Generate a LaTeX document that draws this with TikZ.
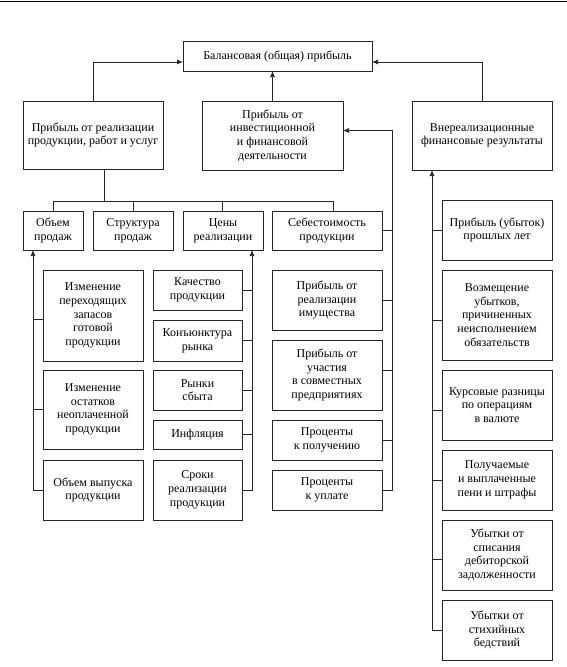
\documentclass[tikz,border=0pt]{standalone}
\usepackage{fontspec}
\setmainfont{Liberation Serif}
\usetikzlibrary{arrows.meta,calc}
\begin{document}
\begin{tikzpicture}[x={(1pt,0)},y={(0,-1pt)},
  box/.style={draw=black!85,line width=0.75pt,rectangle,inner sep=0pt,outer sep=0pt,align=center,
    font=\fontsize{12pt}{13.7pt}\selectfont},
  conn/.style={draw=black!85,line width=0.75pt},
  arr/.style={conn,-{Latex[length=6pt,width=5pt]}}]
\newcommand\mybox[6]{\node[box,minimum width={#4-#2},minimum height={#5-#3}] (#1) at ({(#2+#4)/2},{(#3+#5)/2}) {#6};}
\useasboundingbox (0,0) rectangle (567,667);
\draw[line width=1.3pt] (0,1.5) -- (567,1.5);
% level 0-1
\mybox{top}{183}{41}{372}{71}{Балансовая (общая) прибыль}
\mybox{prod}{23}{101}{163}{169}{Прибыль от реализации\\продукции, работ и услуг}
\mybox{inv}{202}{101}{343}{170}{Прибыль от\\инвестиционной\\и финансовой\\деятельности}
\mybox{vne}{412}{101}{552}{170}{Внереализационные\\финансовые результаты}
% level 2
\mybox{obem}{23}{211}{83}{250}{Объем\\продаж}
\mybox{struct}{93}{211}{173}{250}{Структура\\продаж}
\mybox{ceny}{183}{211}{263}{250}{Цены\\реализации}
\mybox{sebest}{272}{211}{382}{250}{Себестоимость\\продукции}
% left column
\mybox{la}{43}{270}{143}{361}{Изменение\\переходящих\\запасов\\готовой\\продукции}
\mybox{lb}{43}{370}{143}{449}{Изменение\\остатков\\неоплаченной\\продукции}
\mybox{lc}{43}{460}{143}{520}{Объем выпуска\\продукции}
% middle column
\mybox{ma}{153}{270}{242}{310}{Качество\\продукции}
\mybox{mb}{153}{320}{242}{361}{Конъюнктура\\рынка}
\mybox{mc}{153}{370}{242}{410}{Рынки\\сбыта}
\mybox{md}{153}{420}{242}{449}{Инфляция}
\mybox{me}{153}{460}{242}{520}{Сроки\\реализации\\продукции}
% investment column
\mybox{ra}{272}{270}{382}{330}{Прибыль от\\реализации\\имущества}
\mybox{rb}{272}{340}{382}{410}{Прибыль от\\участия\\в совместных\\предприятиях}
\mybox{rc}{272}{420}{382}{460}{Проценты\\к получению}
\mybox{rd}{272}{470}{382}{510}{Проценты\\к уплате}
% financial column
\mybox{fa}{442}{200}{552}{260}{Прибыль (убыток)\\прошлых лет}
\mybox{fb}{442}{270}{552}{360}{Возмещение\\убытков,\\причиненных\\неисполнением\\обязательств}
\mybox{fc}{442}{370}{552}{440}{Курсовые разницы\\по операциям\\в валюте}
\mybox{fd}{442}{450}{552}{510}{Получаемые\\и выплаченные\\пени и штрафы}
\mybox{fe}{442}{520}{552}{590}{Убытки от\\списания\\дебиторской\\задолженности}
\mybox{ff}{442}{600}{552}{660}{Убытки от\\стихийных\\бедствий}
% junction coordinates
\coordinate (hbus) at (0,201);
\coordinate (lv) at (33,0);
\coordinate (mv) at (252,0);
\coordinate (rv) at (392,0);
\coordinate (fv) at (432,0);
% top connections
\draw[arr] (prod.north) |- ([yshift=-6pt]top.west);
\draw[arr] (inv.north) -- (inv.north |- top.south);
\draw[arr] (vne.north) |- ([yshift=-6pt]top.east);
% bus from prod
\draw[conn] ([xshift=11pt]prod.south) -- ([xshift=11pt]prod.south |- hbus);
\draw[conn] (obem.north) |- ([xshift=6pt]sebest.north |- hbus) -- ([xshift=6pt]sebest.north);
\draw[conn] (struct.north) -- (struct.north |- hbus);
\draw[conn] ([xshift=-1pt]ceny.north) -- ([xshift=-1pt]ceny.north |- hbus);
% left column
\draw[arr] (lc.west) -| (lv |- obem.south);
\draw[conn] ([yshift=-4pt]la.west) -- ([yshift=-4pt]la.west -| lv);
\draw[conn] (lb.west) -- (lb.west -| lv);
% middle column
\draw[arr] (me.east) -| (mv |- ceny.south);
\draw[conn] (ma.east) -- (ma.east -| mv);
\draw[conn] (mb.east) -- (mb.east -| mv);
\draw[conn] (mc.east) -- (mc.east -| mv);
\draw[conn] (md.east) -- (md.east -| mv);
% investment column
\draw[arr] (rd.east) -| ([yshift=5pt]rv |- inv.east) -- ([yshift=5pt]inv.east);
\draw[conn] (sebest.east) -- (sebest.east -| rv);
\draw[conn] (ra.east) -- (ra.east -| rv);
\draw[conn] ([yshift=5pt]rb.east) -- ([yshift=5pt]rb.east -| rv);
\draw[conn] (rc.east) -- (rc.east -| rv);
% financial column
\draw[arr] (ff.west) -| (fv |- vne.south);
\draw[conn] (fa.west) -- (fa.west -| fv);
\draw[conn] ([yshift=-5pt]fb.west) -- ([yshift=-5pt]fb.west -| fv);
\draw[conn] ([yshift=-5pt]fc.west) -- ([yshift=-5pt]fc.west -| fv);
\draw[conn] (fd.west) -- (fd.west -| fv);
\draw[conn] ([yshift=-4pt]fe.west) -- ([yshift=-4pt]fe.west -| fv);
\end{tikzpicture}
\end{document}
